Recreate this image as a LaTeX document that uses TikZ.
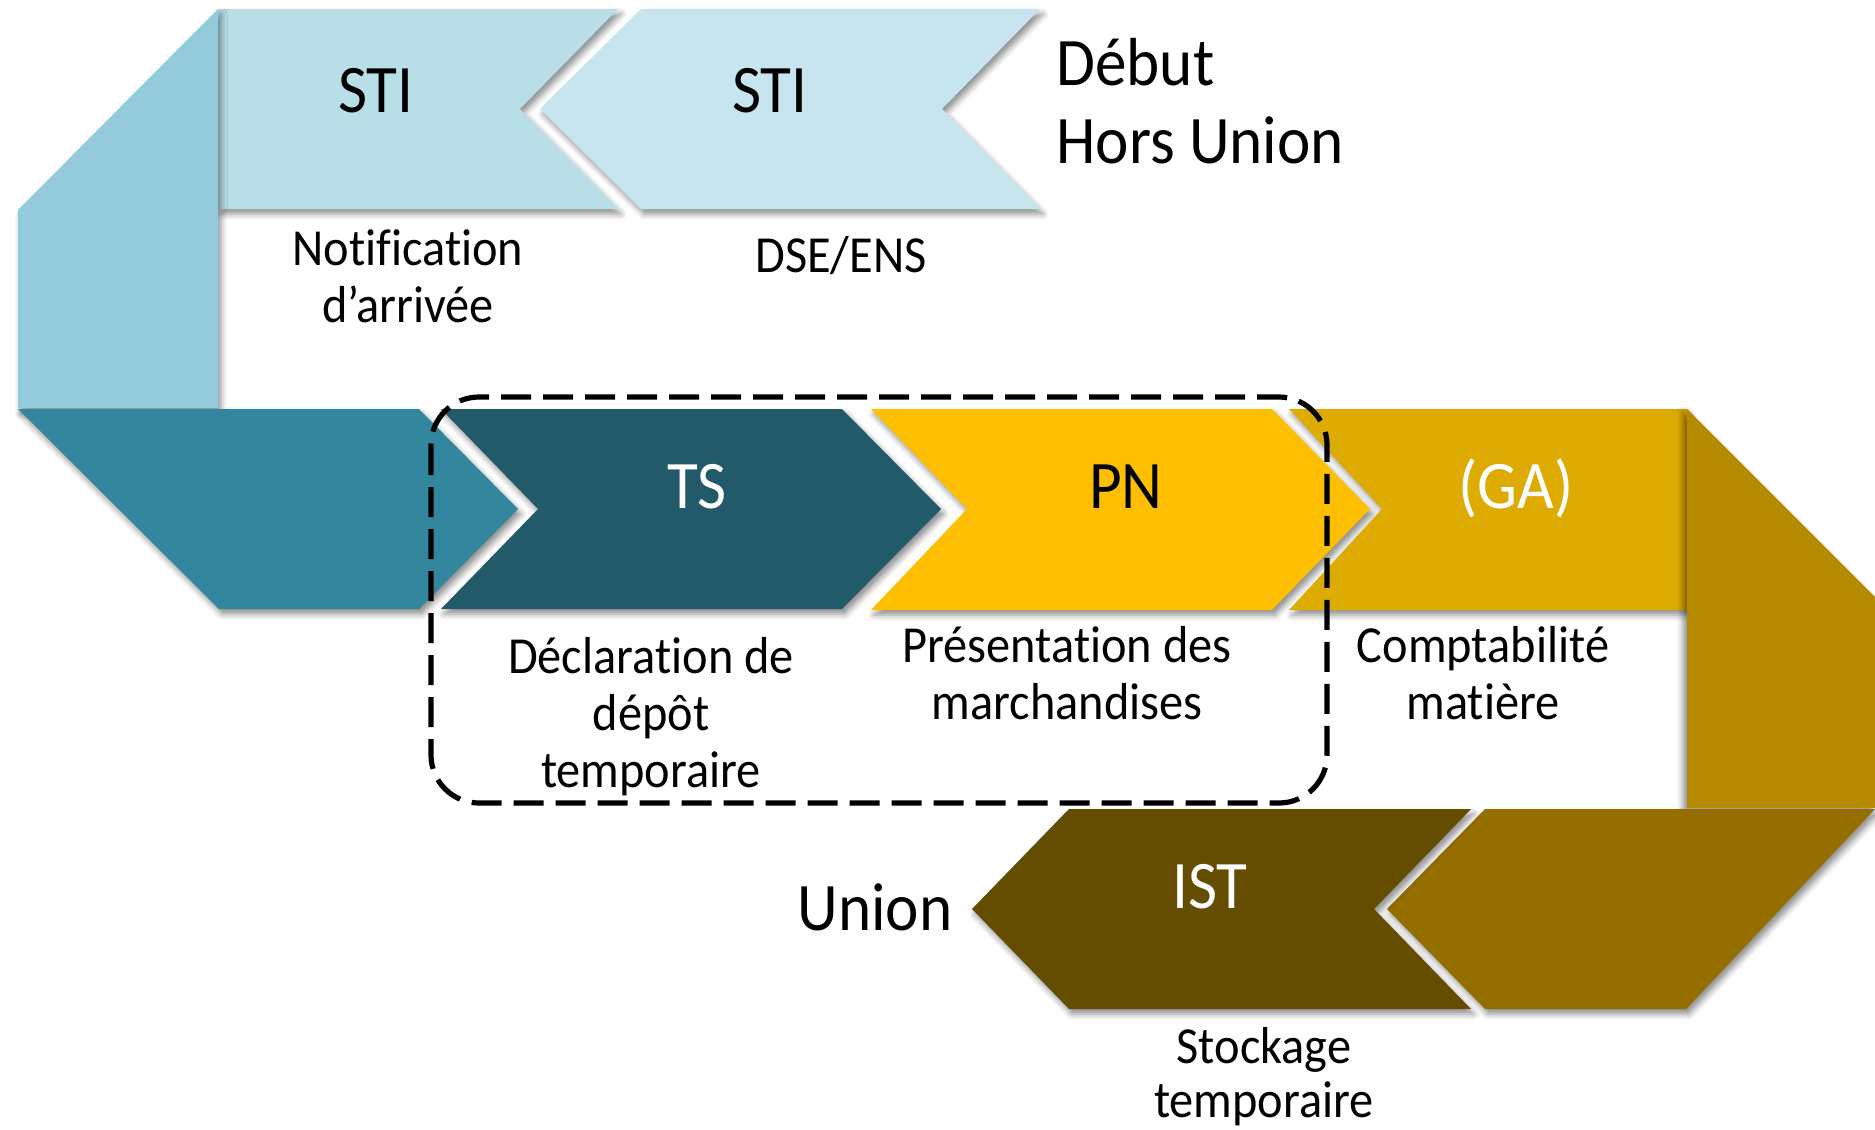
\documentclass[tikz,border=0pt]{standalone}
\usepackage{fontspec}
\setmainfont{Carlito}[FakeStretch=0.93,Ligatures=NoCommon]
\usetikzlibrary{shadows.blur}
\definecolor{bandblue}{HTML}{93CADC}
\definecolor{stione}{HTML}{B8DEE8}
\definecolor{stitwo}{HTML}{C6E5EE}
\definecolor{tealc}{HTML}{32869D}
\definecolor{tsc}{HTML}{235A6A}
\definecolor{pnc}{HTML}{FDBF00}
\definecolor{gac}{HTML}{DEAB02}
\definecolor{rbandc}{HTML}{B58A00}
\definecolor{goldb}{HTML}{946F00}
\definecolor{istc}{HTML}{644C00}
\begin{document}
\begin{tikzpicture}[x=0.5pt,y=-0.5pt,
  shp/.style={blur shadow={shadow xshift=1.5pt,shadow yshift=-2.5pt,shadow blur radius=3pt,shadow opacity=45}},
  lshp/.style={blur shadow={shadow xshift=-2pt,shadow yshift=-1.5pt,shadow blur radius=3pt,shadow opacity=45}},
  big/.style={font=\fontsize{34}{40}\selectfont,anchor=base,inner sep=0pt},
  small/.style={font=\fontsize{26}{30}\selectfont,anchor=base,inner sep=0pt},
  grp/.style={draw=black,line width=2.6pt,dash pattern=on 15pt off 6pt,rounded corners=24pt}]
\useasboundingbox (0,0) rectangle (1875,1130);
% top row
\fill[stitwo,shp] (641,9) -- (1040,9) -- (942,109) -- (1040,209) -- (641,209) -- (540,109) -- cycle;
\fill[stione,shp] (218,9) -- (618,9) -- (520,109) -- (618,209) -- (218,209) -- cycle;
\fill[bandblue,shp] (218,9) -- (218,408) -- (18,408) -- (18,210) -- cycle;
% middle row
\fill[tealc,shp] (18,409) -- (419,409) -- (518,509) -- (419,609) -- (219,609) -- cycle;
\fill[tsc,shp] (441,409) -- (842,409) -- (941,509) -- (842,609) -- (441,609) -- (538,509) -- cycle;
\fill[pnc,shp] (871,409) -- (1272,409) -- (1370,509) -- (1272,610) -- (871,610) -- (967,509) -- cycle;
\fill[gac,shp] (1289,409) -- (1687,409) -- (1687,610) -- (1289,610) -- (1382,509) -- cycle;
\fill[rbandc,lshp] (1687,409) -- (1875,597) -- (1875,808) -- (1687,808) -- cycle;
% bottom row
\fill[goldb,shp] (1485,809) -- (1875,809) -- (1686,1009) -- (1485,1009) -- (1387,909) -- cycle;
\fill[istc,shp] (1069,809) -- (1471,809) -- (1374,909) -- (1471,1009) -- (1069,1009) -- (972,909) -- cycle;
% group
\draw[grp] (431,397) rectangle (1327,803);
% labels
\node[big] (sti1) at (376,112) {STI};
\node[big] (sti2) at (770,112) {STI};
\node[big,anchor=base west] (debut) at (1056,85) {Début};
\node[big,anchor=base west] (hors) at (1056,163) {Hors Union};
\node[small] (notif1) at (408,265) {Notification};
\node[small] (notif2) at (408,322) {d’arrivée};
\node[small] (dse) at (841,272) {DSE/ENS};
\node[big,white] (ts) at (697,508) {TS};
\node[big] (pn) at (1126,508) {PN};
\node[big,white] (ga) at (1516,508) {(GA)};
\node[small] (decl1) at (651,673) {Déclaration de};
\node[small] (decl2) at (651,730) {dépôt};
\node[small] (decl3) at (651,787) {temporaire};
\node[small] (pres1) at (1067,662) {Présentation des};
\node[small] (pres2) at (1067,719) {marchandises};
\node[small] (comp1) at (1483,662) {Comptabilité};
\node[small] (comp2) at (1483,719) {matière};
\node[big,white] (ist) at (1210,908) {IST};
\node[big] (union) at (875,930) {Union};
\node[small] (stock1) at (1264,1063) {Stockage};
\node[small] (stock2) at (1264,1117) {temporaire};
\end{tikzpicture}
\end{document}
